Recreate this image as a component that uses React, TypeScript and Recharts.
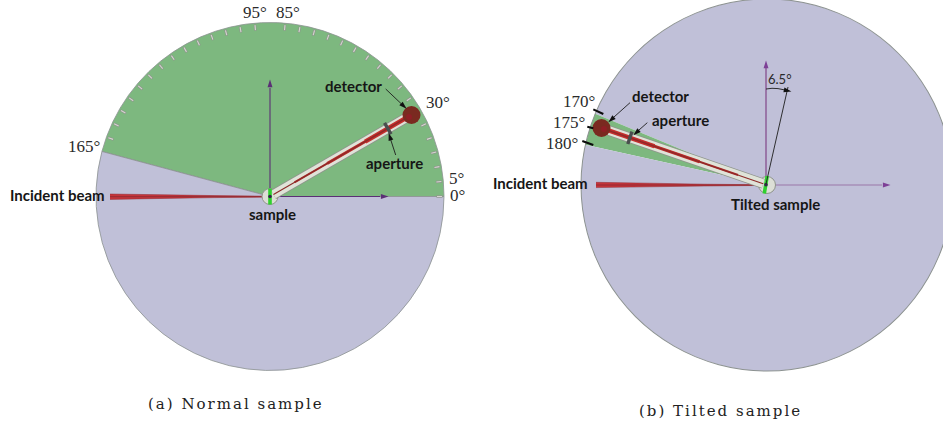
import React from "react";
import { Area, ComposedChart, Pie, PieChart, Scatter, XAxis, YAxis } from "recharts";

const W = 943;
const H = 425;

// sector sweeps in degrees, counter-clockwise from 0 on the right
const normalSweeps = [165, 195];
const tiltedSweeps = [157.5, 10, 192.5];
const rimSweep = [360];
const GREEN = "#7db87f";
const LAVENDER = "#c0c0d8";

const normalCenter = { x: 270, y: 196.5 };
const tiltedCenter = { x: 767, y: 185 };
const normalRadius = 174;
const tiltedRadius = 186;

const scaleAngles = [0, 5, 10, 15, 20, 25, 35, 40, 45, 50, 55, 60, 65, 70, 75, 80, 85, 95, 100, 105, 110, 115, 120, 125, 130, 135, 140, 145, 150, 155, 160];

const polar = (c: { x: number; y: number }, deg: number, r: number) => ({
  x: c.x + r * Math.cos((deg * Math.PI) / 180),
  y: c.y - r * Math.sin((deg * Math.PI) / 180),
});

const normalArmAngle = 30;
const tiltedArmAngle = 161;

const normalBeam = [
  { x: 110, band: [194, 199.4] },
  { x: 165, band: [194.8, 198.4] },
  { x: 215, band: [195.6, 197.6] },
  { x: 268, band: [196.2, 197] },
];
const tiltedBeam = [
  { x: 596, band: [182.3, 187.6] },
  { x: 650, band: [183.2, 186.8] },
  { x: 705, band: [184.2, 186] },
  { x: 765, band: [184.8, 185.4] },
];
const beamCores = [
  [{ x: 110, y: 196.7 }, { x: 268, y: 196.7 }],
  [{ x: 596, y: 185 }, { x: 765, y: 185 }],
];

const purpleLines = [
  [{ x: 270, y: 196.5 }, { x: 270, y: 88 }],
  [{ x: 270, y: 196.5 }, { x: 380, y: 196.5 }],
];
const palePurpleLines = [
  [{ x: 766, y: 185 }, { x: 766, y: 68 }],
  [{ x: 767, y: 185 }, { x: 882, y: 185 }],
];
const blackLines = [
  [{ x: 385.7, y: 89 }, { x: 401, y: 103.5 }],
  [{ x: 395.7, y: 155 }, { x: 390.8, y: 140 }],
  [{ x: 630, y: 102.7 }, { x: 614, y: 117 }],
  [{ x: 647.3, y: 122.7 }, { x: 639, y: 130 }],
  [{ x: 766, y: 184 }, { x: 788, y: 87 }],
  [{ x: 766, y: 89 }, { x: 772, y: 88.3 }, { x: 778, y: 88.6 }, { x: 785, y: 90 }],
];
const scaleMarks = [
  [{ x: 593.3, y: 109.3 }, { x: 603.3, y: 114 }],
  [{ x: 587.3, y: 126.7 }, { x: 593.3, y: 128.3 }],
  [{ x: 582.3, y: 141 }, { x: 593.3, y: 145 }],
];

const purpleHeads = [
  { x: 270, y: 84, angle: 0 },
  { x: 384, y: 196.5, angle: 90 },
];
const paleHeads = [
  { x: 766, y: 65, angle: 0 },
  { x: 886, y: 185, angle: 90 },
];
const blackHeads = [
  { x: 403.3, y: 105.7, angle: 133 },
  { x: 390, y: 137.3, angle: -18 },
  { x: 611.7, y: 119.3, angle: -132 },
  { x: 636.7, y: 132.3, angle: -132 },
  { x: 787, y: 90.5, angle: 102 },
];

const degreeLabels = [
  { text: "95°", x: 243, y: 18 },
  { text: "85°", x: 276, y: 18 },
  { text: "165°", x: 68, y: 152 },
  { text: "30°", x: 426, y: 108 },
  { text: "5°", x: 449, y: 184 },
  { text: "0°", x: 450, y: 201 },
  { text: "170°", x: 563, y: 107 },
  { text: "175°", x: 553, y: 128 },
  { text: "180°", x: 546, y: 149 },
];
const boldLabels = [
  { text: "detector", x: 325, y: 92 },
  { text: "aperture", x: 366, y: 169 },
  { text: "sample", x: 249, y: 220 },
  { text: "Incident beam", x: 10, y: 201 },
  { text: "detector", x: 632, y: 102 },
  { text: "aperture", x: 652, y: 126 },
  { text: "Incident beam", x: 493, y: 189 },
  { text: "Tilted sample", x: 731, y: 210 },
];
const smallLabels = [{ text: "6.5°", x: 768, y: 84 }];
const captions = [
  { text: "(a) Normal sample", x: 148, y: 409 },
  { text: "(b) Tilted sample", x: 639, y: 416 },
];

const hidePoint = () => <g />;

function segment(key: string, points: { x: number; y: number }[], stroke: string, strokeWidth: number) {
  return (
    <Scatter
      key={key}
      data={points}
      dataKey="y"
      line={{ stroke, strokeWidth }}
      shape={hidePoint}
      isAnimationActive={false}
    />
  );
}

const head = (fill: string, size: number) => (p: any) => (
  <polygon
    points={`0,${-size} ${size * 0.55},${size * 0.7} ${-size * 0.55},${size * 0.7}`}
    fill={fill}
    transform={`translate(${p.cx},${p.cy}) rotate(${p.payload.angle})`}
  />
);

const label = (style: React.CSSProperties) => (p: any) => (
  <text x={p.cx} y={p.cy} textAnchor="start" style={style}>
    {p.payload.text}
  </text>
);

const dot = (r: number, fill: string, stroke = "none") => (p: any) => (
  <circle cx={p.cx} cy={p.cy} r={r} fill={fill} stroke={stroke} />
);

function arm(id: string, c: { x: number; y: number }, deg: number, end: number, apertureR: number) {
  const perp = deg + 90;
  const a = polar(c, deg, apertureR);
  return [
    segment(id + "tube-edge", [polar(c, deg, 4), polar(c, deg, end)], "#8f948c", 10.2),
    segment(id + "tube", [polar(c, deg, 4), polar(c, deg, end)], "#dfe3d8", 8.8),
    segment(id + "ray-4", [polar(c, deg, end * 0.7), polar(c, deg, end)], "#c8322f", 4.4),
    segment(id + "ray-3", [polar(c, deg, end * 0.42), polar(c, deg, end)], "#c4302e", 3),
    segment(id + "ray-2", [polar(c, deg, end * 0.18), polar(c, deg, end)], "#b02c2c", 2),
    segment(id + "ray-1", [polar(c, deg, 4), polar(c, deg, end)], "#8c2a28", 1.1),
    segment(id + "aperture", [polar(a, perp, 6.5), polar(a, perp, -6.5)], "#4a4f4e", 3.4),
  ];
}

export default function App() {
  const normalPie = normalSweeps.map((value, i) => ({ value, fill: [GREEN, LAVENDER][i] }));
  const tiltedPie = tiltedSweeps.map((value, i) => ({ value, fill: [LAVENDER, GREEN, LAVENDER][i] }));
  const rim = rimSweep.map((value) => ({ value, fill: "#8c9290" }));

  return (
    <div style={{ position: "absolute", left: 0, top: 0, width: W, height: H, background: "#fff", overflow: "hidden" }}>
      <div style={{ position: "absolute", left: 0, top: 0 }}>
        <PieChart width={W} height={H} margin={{ top: 0, right: 0, bottom: 0, left: 0 }}>
          <Pie data={normalPie} dataKey="value" cx={normalCenter.x} cy={normalCenter.y} outerRadius={normalRadius} startAngle={0} endAngle={360} stroke="#8c9290" strokeWidth={0.8} isAnimationActive={false} />
          <Pie data={tiltedPie} dataKey="value" cx={tiltedCenter.x} cy={tiltedCenter.y} outerRadius={tiltedRadius} startAngle={0} endAngle={360} stroke="none" isAnimationActive={false} />
          <Pie data={rim} dataKey="value" cx={tiltedCenter.x} cy={tiltedCenter.y} innerRadius={tiltedRadius - 0.5} outerRadius={tiltedRadius + 0.5} startAngle={0} endAngle={360} stroke="none" isAnimationActive={false} />
        </PieChart>
      </div>
      <div style={{ position: "absolute", left: 0, top: 0 }}>
        <ComposedChart width={W} height={H} margin={{ top: 0, right: 0, bottom: 0, left: 0 }}>
          <XAxis hide type="number" dataKey="x" domain={[0, W]} allowDataOverflow />
          <YAxis hide type="number" domain={[0, H]} reversed allowDataOverflow />

          {/* scale marks on the arc */}
          {scaleAngles.map((deg) =>
            segment("mark-edge" + deg, [polar(normalCenter, deg, normalRadius - 7.5), polar(normalCenter, deg, normalRadius - 1.5)], "#8f938d", 2.4)
          )}
          {scaleAngles.map((deg) =>
            segment("mark" + deg, [polar(normalCenter, deg, normalRadius - 7), polar(normalCenter, deg, normalRadius - 2)], "#d5d8d0", 1.1)
          )}

          {purpleLines.map((pts, i) => segment("purple" + i, pts, "#5b2f75", 1.1))}
          {palePurpleLines.map((pts, i) => segment("pale" + i, pts, "#9a76a8", i === 0 ? 2 : 1.2))}

          {/* incident beams */}
          <Area data={normalBeam} dataKey="band" type="linear" fill="#c5343a" fillOpacity={1} stroke="#8f2b33" strokeWidth={0.5} dot={false} activeDot={false} isAnimationActive={false} />
          <Area data={tiltedBeam} dataKey="band" type="linear" fill="#c5343a" fillOpacity={1} stroke="#8f2b33" strokeWidth={0.5} dot={false} activeDot={false} isAnimationActive={false} />
          {beamCores.map((pts, i) => segment("core" + i, pts, "#8f2b33", 0.9))}

          {/* sample discs */}
          <Scatter data={[normalCenter]} dataKey="y" shape={dot(8, "#dcdfd6", "#8f948c")} isAnimationActive={false} />
          <Scatter data={[tiltedCenter]} dataKey="y" shape={dot(8.5, "#dcdfd6", "#8f948c")} isAnimationActive={false} />

          {arm("n", normalCenter, normalArmAngle, 157, 136)}
          {arm("t", tiltedCenter, tiltedArmAngle, 170, 145)}

          {/* tilted and upright samples */}
          {segment("s1", [{ x: 270, y: 188.5 }, { x: 270, y: 204.5 }], "#2ed12e", 3.6)}
          {segment("s2", [{ x: 767.2, y: 176 }, { x: 764.3, y: 193.5 }], "#2ed12e", 3.6)}
          <Scatter data={[{ x: 270, y: 196.5 }, { x: 766, y: 184.8 }]} dataKey="y" shape={dot(1.8, "#33264a")} isAnimationActive={false} />

          {/* detectors */}
          <Scatter data={[{ x: 411.5, y: 115 }, { x: 601.5, y: 128 }]} dataKey="y" shape={dot(9, "#7a2a20")} isAnimationActive={false} />
          <Scatter data={[{ x: 409, y: 117 }, { x: 604, y: 129 }]} dataKey="y" shape={dot(3, "#8f1f25")} isAnimationActive={false} />

          {blackLines.map((pts, i) => segment("black" + i, pts, "#1d1d1d", 0.9))}
          {scaleMarks.map((pts, i) => segment("scale" + i, pts, "#0b0b0b", 2))}

          <Scatter data={purpleHeads} dataKey="y" shape={head("#5b2f75", 4.5)} isAnimationActive={false} />
          <Scatter data={paleHeads} dataKey="y" shape={head("#7d3f96", 4.5)} isAnimationActive={false} />
          <Scatter data={blackHeads} dataKey="y" shape={head("#111", 4.5)} isAnimationActive={false} />

          <Scatter data={degreeLabels} dataKey="y" shape={label({ fontFamily: "'Liberation Serif'", fontSize: 17, fill: "#2a2a2a" })} isAnimationActive={false} />
          <Scatter data={boldLabels} dataKey="y" shape={label({ fontFamily: "Lato", fontWeight: 700, fontSize: 15, fill: "#161616" })} isAnimationActive={false} />
          <Scatter data={smallLabels} dataKey="y" shape={label({ fontFamily: "Lato", fontSize: 13, fill: "#2a2a2a" })} isAnimationActive={false} />
          <Scatter data={captions} dataKey="y" shape={label({ fontFamily: "'DejaVu Serif'", fontSize: 15, letterSpacing: 2, fill: "#222" })} isAnimationActive={false} />
        </ComposedChart>
      </div>
    </div>
  );
}
